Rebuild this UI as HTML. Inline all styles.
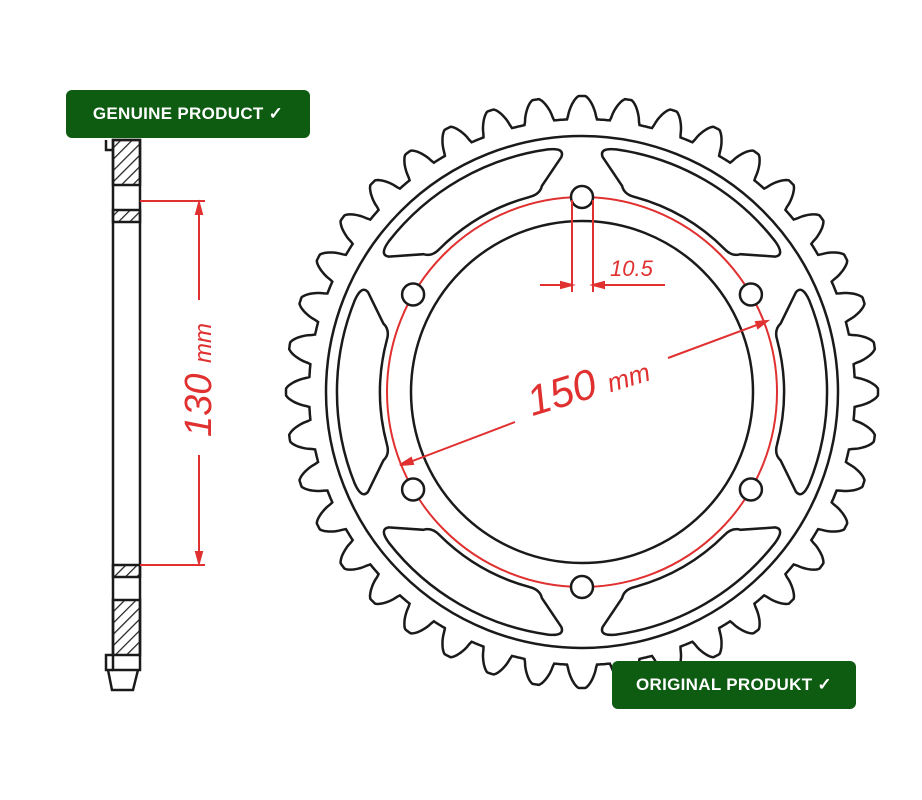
<!DOCTYPE html>
<html><head><style>
body{margin:0;width:922px;height:800px;background:#fff;overflow:hidden;position:relative;font-family:"Liberation Sans",sans-serif}
.badge{position:absolute;background:#0e5b12;color:#fff;font-weight:bold;font-size:17px;border-radius:6px;display:flex;align-items:center;justify-content:center;letter-spacing:0.3px}
</style></head><body>
<svg id="s" width="922" height="800" style="position:absolute;left:0;top:0">
<defs>
<pattern id="h" width="8" height="8" patternUnits="userSpaceOnUse" patternTransform="rotate(45)"><line x1="0" y1="0" x2="0" y2="8" stroke="#222" stroke-width="2.5"/></pattern>
</defs>
<g id="g" fill="none" stroke="#1a1a1a" stroke-width="2.5"></g>
<g stroke="#1a1a1a" stroke-width="2.5" fill="none">
<rect x="113" y="140" width="27" height="530"/>
<rect x="113" y="140" width="27" height="45" fill="url(#h)"/>
<rect x="113" y="210" width="27" height="12" fill="url(#h)"/>
<rect x="113" y="565" width="27" height="12" fill="url(#h)"/>
<rect x="113" y="600" width="27" height="55" fill="url(#h)"/>
<path d="M113 655 L106 655 L106 670 L113 670"/>
<path d="M106 140 L106 150 L113 150"/>
<path d="M108 670 L112 690 L133 690 L138 670"/>
</g>
<g stroke="#e03030" stroke-width="2" fill="#e03030">
<line x1="140" y1="201" x2="205" y2="201"/>
<line x1="140" y1="565" x2="205" y2="565"/>
<line x1="199" y1="203" x2="199" y2="300"/>
<line x1="199" y1="455" x2="199" y2="563"/>
<polygon points="199,203 196,214 202,214"/>
<polygon points="199,563 196,552 202,552"/>
</g>
<text x="0" y="0" transform="translate(211,380) rotate(-90)" text-anchor="middle" fill="#e03030" font-size="38" font-style="italic" font-family="Liberation Sans">130 <tspan font-size="24">mm</tspan></text>
<g stroke="#e03030" stroke-width="2" fill="#e03030">
<line x1="572" y1="200" x2="572" y2="292"/>
<line x1="593" y1="200" x2="593" y2="292"/>
<line x1="540" y1="285" x2="572" y2="285"/>
<line x1="593" y1="285" x2="665" y2="285"/>
<polygon points="572,285 561,282 561,288"/>
<polygon points="593,285 604,282 604,288"/>
<line x1="402" y1="465" x2="515" y2="422"/>
<line x1="668" y1="358" x2="765" y2="322"/>
<polygon points="400,465 411,458 413,464"/>
<polygon points="767,321 756,322 758,328"/>
</g>
<text x="610" y="276" fill="#e03030" font-size="22" font-style="italic">10.5</text>
<text x="0" y="0" transform="translate(592,398) rotate(-17)" text-anchor="middle" fill="#e03030" font-size="42" font-style="italic">150 <tspan font-size="26">mm</tspan></text>
</svg>
<div class="badge" style="left:66px;top:90px;width:244px;height:48px">GENUINE PRODUCT ✓</div>
<div class="badge" style="left:612px;top:661px;width:244px;height:48px">ORIGINAL PRODUKT ✓</div>
<script>
var cx=582,cy=392,g=document.getElementById('g'),N=40,ns='http://www.w3.org/2000/svg';
function P(r,a){return [(cx+r*Math.cos(a)).toFixed(1),(cy+r*Math.sin(a)).toFixed(1)];}
function el(t,at){var e=document.createElementNS(ns,t);for(var k in at)e.setAttribute(k,at[k]);g.insertBefore(e,null);return e;}
var d='',M=N*40;
for(var i=0;i<=M;i++){var t=i/M,a=t*2*Math.PI-Math.PI/2,ph=(t*N)%1;
var c=0.5+0.5*Math.cos(2*Math.PI*ph);var f=Math.min(1,Math.max(0,(c-0.25)/0.7));f=Math.pow(f,0.6);
var p=P(273+23*f,a);d+=(i?'L':'M')+p+' ';}
el('path',{d:d+'Z'});
el('circle',{cx:cx,cy:cy,r:256});
el('circle',{cx:cx,cy:cy,r:171});
el('circle',{cx:cx,cy:cy,r:195,stroke:'#e03030','stroke-width':2});
for(var k=0;k<6;k++){var a=(k*60-90)*Math.PI/180;var h=P(195,a);el('circle',{cx:h[0],cy:h[1],r:11,fill:'#fff'});}
var D=Math.PI/180;
for(var k=0;k<6;k++){var a=k*60*D;
var o1=P(245,a-22*D),o2=P(245,a+22*D),o3=P(236,a+25*D),i3=P(210,a+19*D),i2=P(202,a+15*D),i1=P(202,a-15*D),i0=P(210,a-19*D),o0=P(236,a-25*D);
var dd='M'+o1+' A245 245 0 0 1 '+o2+' Q'+P(245,a+26*D)+' '+o3+' L'+i3+' Q'+P(202,a+18*D)+' '+i2+' A202 202 0 0 0 '+i1+' Q'+P(202,a-18*D)+' '+i0+' L'+o0+' Q'+P(245,a-26*D)+' '+o1+' Z';
el('path',{d:dd});}
</script>
</body></html>
